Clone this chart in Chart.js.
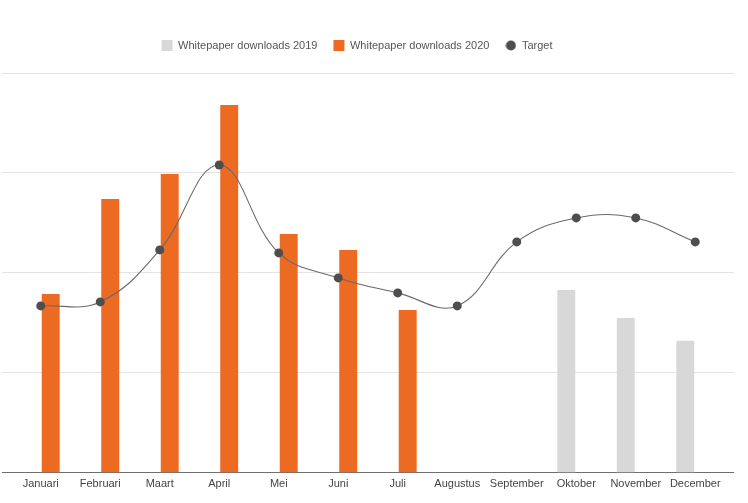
<!DOCTYPE html>
<html>
<head>
<meta charset="utf-8">
<title>Whitepaper downloads</title>
<script src="https://cdn.jsdelivr.net/npm/chart.js@4.4.1/dist/chart.umd.min.js"></script>
<style>
  html, body { margin: 0; padding: 0; background: #fff; }
  #wrap { width: 748px; height: 503px; }
</style>
</head>
<body>
<div id="wrap"><canvas id="myChart"></canvas></div>
<script>
const maanden = ["Januari", "Februari", "Maart", "April", "Mei", "Juni", "Juli",
  "Augustus", "September", "Oktober", "November", "December"];
const downloads2019 = [null, null, null, null, null, null, null, null, null, 183, 155, 132];
const downloads2020 = [179, 274, 299, 368, 239, 223, 163, null, null, null, null, null];
const target = [167, 171, 223, 308, 220, 195, 180, 167, 231, 255, 255, 231];
const yTicks = [0, 100, 200, 300, 400];

const gridKleur = (ctx) => ctx.tick && ctx.tick.value === 0 ? "#6e6e6e" : "#e3e3e3";

// klein rondje voor de legenda van Target
const stip = document.createElement("canvas");
stip.width = 11;
stip.height = 11;
const sctx = stip.getContext("2d");
sctx.fillStyle = "#4e4e4e";
sctx.beginPath();
sctx.arc(5.5, 5.5, 5, 0, Math.PI * 2);
sctx.fill();

// extra ruimte onder de legenda en legenda iets naar links
const legendGap = {
  id: "legendGap",
  beforeInit(chart) {
    const legend = chart.legend;
    const fit = legend.fit;
    legend.fit = function () {
      fit.call(this);
      this.height += 12;
    };
    const draw = legend.draw;
    legend.draw = function () {
      const ctx = this.ctx;
      ctx.save();
      ctx.translate(-11, 0);
      draw.apply(this, arguments);
      ctx.restore();
    };
  }
};

Chart.defaults.font.family = "'Liberation Sans', Arial, Helvetica, sans-serif";
Chart.defaults.font.size = 11;
Chart.defaults.color = "#555";

new Chart(document.getElementById("myChart"), {
  type: "bar",
  data: {
    labels: maanden,
    datasets: [
      {
        label: "Whitepaper downloads 2019",
        data: downloads2019,
        backgroundColor: "#d8d8d8",
        borderWidth: 0,
        pointStyle: "rect",
      },
      {
        label: "Whitepaper downloads 2020",
        data: downloads2020,
        backgroundColor: "#ec6a22",
        borderWidth: 0,
        pointStyle: "rect",
      },
      {
        type: "line",
        label: "Target",
        data: target,
        order: -1,
        borderColor: "#6a6a6a",
        borderWidth: 1.1,
        tension: 0.4,
        fill: false,
        pointStyle: "circle",
        pointRadius: 4.5,
        pointBackgroundColor: "#4e4e4e",
        pointBorderColor: "#4e4e4e",
        pointBorderWidth: 0,
      },
    ],
  },
  options: {
    responsive: true,
    maintainAspectRatio: false,
    animation: false,
    events: [],
    layout: { padding: { top: 24, left: 2, right: 14, bottom: 7 } },
    datasets: {
      bar: { categoryPercentage: 0.67, barPercentage: 0.9 },
    },
    scales: {
      x: {
        grid: { display: false, drawTicks: false },
        border: { display: false },
        ticks: { padding: 5, color: "#444", maxRotation: 0, autoSkip: false },
      },
      y: {
        position: "left",
        min: yTicks[0],
        max: yTicks[yTicks.length - 1],
        afterBuildTicks: (axis) => { axis.ticks = yTicks.map(v => ({ value: v })); },
        ticks: { display: false },
        border: { display: false },
        grid: { color: gridKleur, drawTicks: true, tickLength: 9 },
      },
      y2: {
        position: "right",
        min: yTicks[0],
        max: yTicks[yTicks.length - 1],
        afterBuildTicks: (axis) => { axis.ticks = yTicks.map(v => ({ value: v })); },
        ticks: { display: false },
        border: { display: false },
        grid: { color: gridKleur, drawOnChartArea: false, drawTicks: true, tickLength: 9 },
      },
    },
    plugins: {
      tooltip: { enabled: false },
      legend: {
        position: "top",
        labels: {
          usePointStyle: true,
          boxWidth: 11,
          boxHeight: 11,
          padding: 16,
          color: "#555",
          generateLabels(chart) {
            const items = Chart.defaults.plugins.legend.labels.generateLabels(chart);
            items.forEach(it => { if (it.text === "Target") it.pointStyle = stip; });
            return items;
          },
          sort: (a, b) => a.datasetIndex - b.datasetIndex,
        },
      },
    },
  },
  plugins: [legendGap],
});
</script>
</body>
</html>
